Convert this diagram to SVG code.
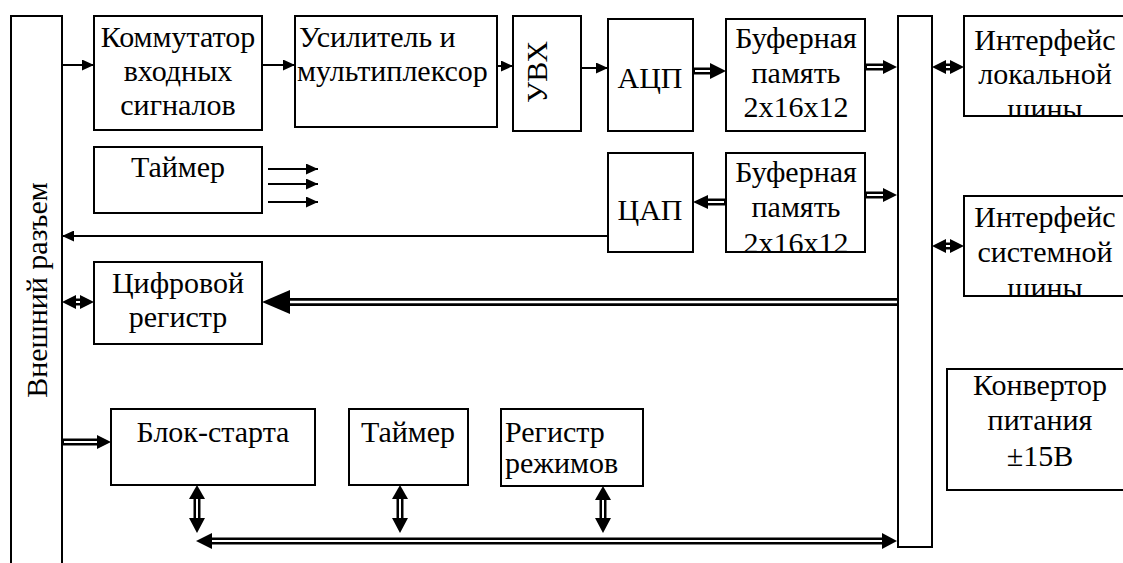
<svg xmlns="http://www.w3.org/2000/svg" width="1123" height="563" viewBox="0 0 1123 563">
<style>
.box{fill:#fff;stroke:#000;stroke-width:2}
.t{font-family:'Liberation Serif','DejaVu Serif',serif;font-size:30px;fill:#000}
.c{text-anchor:middle}
.ln{stroke:#000;stroke-width:2;fill:none}
.dl{stroke:#000;stroke-width:7;fill:none}
.dw{stroke:#fff;stroke-width:2;fill:none}
.hd{fill:#000;stroke:none}
</style>
<defs>
<marker id="ah" markerUnits="userSpaceOnUse" markerWidth="12" markerHeight="11" refX="12" refY="5.5" orient="auto">
<path d="M0,0 L12,5.5 L0,11 z" fill="#000"/>
</marker>
<clipPath id="clipL"><rect x="964" y="16" width="170" height="100"/></clipPath>
<clipPath id="clipS"><rect x="964" y="196" width="170" height="100"/></clipPath>
<clipPath id="clipB2"><rect x="726" y="153" width="139" height="99"/></clipPath>
</defs>
<rect width="1123" height="563" fill="#fff"/>

<g id="connectors">
<line class="ln" x1="62" y1="65" x2="94" y2="65" marker-end="url(#ah)"/>
<line class="ln" x1="262" y1="65" x2="295" y2="65" marker-end="url(#ah)"/>
<line class="ln" x1="497" y1="66" x2="513" y2="66" marker-end="url(#ah)"/>
<line class="ln" x1="581" y1="68" x2="608" y2="68" marker-end="url(#ah)"/>
<line class="ln" x1="268" y1="169" x2="318" y2="169" marker-end="url(#ah)"/>
<line class="ln" x1="268" y1="184" x2="318" y2="184" marker-end="url(#ah)"/>
<line class="ln" x1="268" y1="202" x2="318" y2="202" marker-end="url(#ah)"/>
<line class="ln" x1="608" y1="236" x2="62" y2="236" marker-end="url(#ah)"/>

<line class="dl" x1="693" y1="71" x2="711" y2="71"/><line class="dw" x1="695" y1="71" x2="711" y2="71"/>
<polygon class="hd" points="710,63 726,71 710,79"/>
<line class="dl" x1="865" y1="67" x2="884" y2="67"/><line class="dw" x1="867" y1="67" x2="884" y2="67"/>
<polygon class="hd" points="883,60 897,67 883,74"/>
<line class="dl" x1="726" y1="202" x2="707" y2="202"/><line class="dw" x1="724" y1="202" x2="707" y2="202"/>
<polygon class="hd" points="708,195 693,202 708,209"/>
<line class="dl" x1="865" y1="195" x2="884" y2="195"/><line class="dw" x1="867" y1="195" x2="884" y2="195"/>
<polygon class="hd" points="883,188 897,195 883,202"/>
<line class="dl" x1="898" y1="302" x2="289" y2="302" style="stroke-width:8"/><line class="dw" x1="898" y1="302" x2="289" y2="302" style="stroke-width:2.4"/>
<polygon class="hd" points="290,290 262,302 290,314"/>
<line class="dl" x1="62" y1="442" x2="98" y2="442"/><line class="dw" x1="64" y1="442" x2="98" y2="442"/>
<polygon class="hd" points="97,435 111,442 97,449"/>
<line class="dl" x1="211" y1="541" x2="883" y2="541"/><line class="dw" x1="211" y1="541" x2="883" y2="541"/>
<polygon class="hd" points="212,533 196,541 212,549"/>
<polygon class="hd" points="882,533 897,541 882,549"/>
<line class="dl" x1="197" y1="498" x2="197" y2="519"/><line class="dw" x1="197" y1="498" x2="197" y2="519"/>
<polygon class="hd" points="197,485 189,499 205,499"/><polygon class="hd" points="197,533 189,518 205,518"/>
<line class="dl" x1="400" y1="498" x2="400" y2="519"/><line class="dw" x1="400" y1="498" x2="400" y2="519"/>
<polygon class="hd" points="400,485 392,499 408,499"/><polygon class="hd" points="400,533 392,518 408,518"/>
<line class="dl" x1="603" y1="498" x2="603" y2="519"/><line class="dw" x1="603" y1="498" x2="603" y2="519"/>
<polygon class="hd" points="603,486 595,500 611,500"/><polygon class="hd" points="603,533 595,518 611,518"/>
<line class="dl" x1="945" y1="67" x2="951" y2="67"/><line class="dw" x1="946" y1="67" x2="950" y2="67"/>
<polygon class="hd" points="932,67 946,60 946,74"/><polygon class="hd" points="964,67 950,60 950,74"/>
<line class="dl" x1="945" y1="246" x2="951" y2="246"/><line class="dw" x1="946" y1="246" x2="950" y2="246"/>
<polygon class="hd" points="932,246 946,239 946,253"/><polygon class="hd" points="964,246 950,239 950,253"/>
<line class="dl" x1="75" y1="302" x2="81" y2="302"/><line class="dw" x1="76" y1="302" x2="80" y2="302"/>
<polygon class="hd" points="62,302 76,295 76,309"/><polygon class="hd" points="94,302 80,295 80,309"/>
</g>

<g id="ext"><rect class="box" x="11" y="16" width="51" height="570"/>
<text class="t c" transform="translate(47,290) rotate(-90)">Внешний разъем</text></g>

<g id="kommutator"><rect class="box" x="94" y="16" width="168" height="114"/>
<text class="t c" x="178" y="47">Коммутатор</text><text class="t c" x="178" y="81">входных</text><text class="t c" x="178" y="115">сигналов</text></g>

<g id="usilitel"><rect class="box" x="295" y="16" width="202" height="111"/>
<text class="t" x="299" y="47">Усилитель и</text><text class="t" x="297" y="81">мультиплексор</text></g>

<g id="uvx"><rect class="box" x="513" y="16" width="68" height="115"/>
<text class="t c" transform="translate(547,72) rotate(-90)">УВХ</text></g>

<g id="acp"><rect class="box" x="608" y="19" width="85" height="112"/>
<text class="t c" x="650" y="88">АЦП</text></g>

<g id="buf1"><rect class="box" x="726" y="19" width="139" height="112"/>
<text class="t c" x="796" y="48">Буферная</text><text class="t c" x="796" y="83">память</text><text class="t c" x="796" y="117">2x16x12</text></g>

<g id="bus"><rect class="box" x="898" y="16" width="34" height="531"/></g>

<g id="iface-local"><rect class="box" x="964" y="16" width="170" height="100"/>
<g clip-path="url(#clipL)"><text class="t c" x="1045" y="50">Интерфейс</text><text class="t c" x="1045" y="84">локальной</text><text class="t c" x="1045" y="119">шины</text></g></g>

<g id="timer1"><rect class="box" x="94" y="147" width="168" height="66"/>
<text class="t c" x="178" y="177">Таймер</text></g>

<g id="cap"><rect class="box" x="608" y="153" width="85" height="99"/>
<text class="t c" x="650" y="220">ЦАП</text></g>

<g id="buf2"><rect class="box" x="726" y="153" width="139" height="99"/>
<g clip-path="url(#clipB2)"><text class="t c" x="796" y="182">Буферная</text><text class="t c" x="796" y="217">память</text><text class="t c" x="796" y="253">2x16x12</text></g></g>

<g id="iface-sys"><rect class="box" x="964" y="196" width="170" height="100"/>
<g clip-path="url(#clipS)"><text class="t c" x="1045" y="227">Интерфейс</text><text class="t c" x="1045" y="262">системной</text><text class="t c" x="1045" y="298">шины</text></g></g>

<g id="digreg"><rect class="box" x="94" y="262" width="168" height="82"/>
<text class="t c" x="178" y="293">Цифровой</text><text class="t c" x="178" y="327">регистр</text></g>

<g id="conv"><rect class="box" x="947" y="369" width="190" height="121"/>
<text class="t c" x="1040" y="395">Конвертор</text><text class="t c" x="1040" y="430">питания</text><text class="t c" x="1040" y="466">±15В</text></g>

<g id="blok"><rect class="box" x="111" y="409" width="204" height="76"/>
<text class="t c" x="213" y="442">Блок-старта</text></g>

<g id="timer2"><rect class="box" x="349" y="409" width="119" height="76"/>
<text class="t c" x="408" y="442">Таймер</text></g>

<g id="regrez"><rect class="box" x="501" y="409" width="142" height="77"/>
<text class="t" x="505" y="442">Регистр</text><text class="t" x="505" y="473">режимов</text></g>
</svg>
